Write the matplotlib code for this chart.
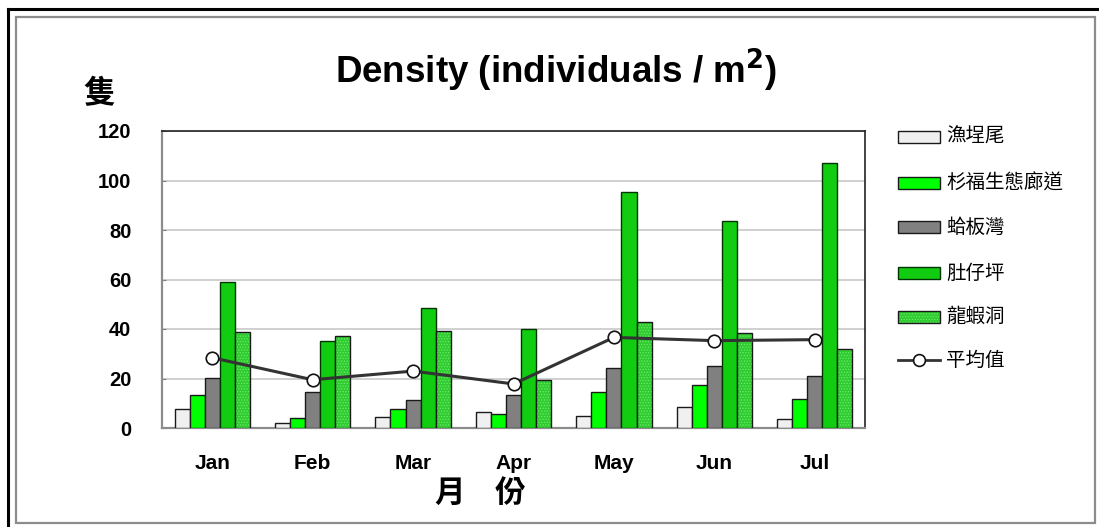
import matplotlib
matplotlib.use("Agg")
import matplotlib.pyplot as plt
from matplotlib.patches import Rectangle
from matplotlib.lines import Line2D
import numpy as np

plt.rcParams["font.family"] = ["Liberation Sans", "Noto Sans CJK TC", "DejaVu Sans"]
plt.rcParams["hatch.linewidth"] = 0.6

# ---- data ----
months = ["Jan", "Feb", "Mar", "Apr", "May", "Jun", "Jul"]
sites = ["漁埕尾", "杉福生態廊道", "蛤板灣", "肚仔坪", "龍蝦洞"]
yuchengwei = [7.8, 2.2, 4.4, 6.6, 5.0, 8.4, 3.8]
shanfu = [13.5, 4.2, 7.8, 5.7, 14.5, 17.5, 11.9]
gebanwan = [20.2, 14.5, 11.2, 13.3, 24.1, 25.2, 21.1]
duzaiping = [59.1, 35.3, 48.6, 40.1, 95.5, 83.8, 107.2]
longxiadong = [38.7, 37.3, 39.2, 19.5, 43.0, 38.5, 31.9]
mean_vals = [28.4, 19.5, 23.0, 17.8, 36.6, 35.3, 35.7]
yticks = [0, 20, 40, 60, 80, 100, 120]

W, H = 1099, 527
fig = plt.figure(figsize=(W / 100, H / 100), dpi=100)

# outer frame
fig.add_artist(Line2D([8 / W, 8 / W], [0, 1 - 9 / H], color="black", lw=2.2))
fig.add_artist(Line2D([8 / W, 1], [1 - 9 / H, 1 - 9 / H], color="black", lw=2.2))
fig.add_artist(Rectangle((16 / W, 1 - 523 / H), (1095 - 16) / W, (523 - 17) / H,
                         transform=fig.transFigure, fill=False, ec="#8c8c8c", lw=1.6))

ax = fig.add_axes([162 / W, (H - 428) / H, 703 / W, 297 / H])
x = np.arange(len(months))
bw = 0.15
series = [yuchengwei, shanfu, gebanwan, duzaiping, longxiadong]
faces = ["#f0f0f0", "#00ff00", "#808080", "#11cc11", "#2ecc2e"]
edges = ["#1a1a1a", "#1a1a1a", "#1a1a1a", "#003300", "#1a1a1a"]
for i, (vals, fc, ec) in enumerate(zip(series, faces, edges)):
    pos = x + (i - 2) * bw
    if i == 4:
        ax.bar(pos, vals, bw, color=fc, edgecolor="#6fe86f", hatch="......",
               lw=0, zorder=3)
        ax.bar(pos, vals, bw, fill=False, edgecolor=ec, lw=1.0, zorder=4)
    else:
        ax.bar(pos, vals, bw, color=fc, edgecolor=ec, lw=1.0, zorder=3)

ax.plot(x, mean_vals, color="#333333", lw=2.2, marker="o", ms=9,
        mfc="white", mec="#111111", mew=1.2, zorder=5)

ax.set_xlim(-0.5, len(months) - 0.5)
ax.set_ylim(0, 120)
ax.set_yticks(yticks)
ax.set_yticklabels([str(t) for t in yticks], fontsize=14.5, fontweight="bold")
ax.set_xticks(x)
ax.set_xticklabels(months, fontsize=15, fontweight="bold")
ax.tick_params(axis="x", length=0, pad=19)
ax.tick_params(axis="y", direction="in", length=3, color="#808080", pad=22)
ax.grid(axis="y", color="#c8c8c8", lw=1.2, zorder=0)
ax.set_axisbelow(True)
for s in ("top", "right"):
    ax.spines[s].set_color("#222222")
    ax.spines[s].set_linewidth(1.2)
for s in ("left", "bottom"):
    ax.spines[s].set_color("#8c8c8c")
    ax.spines[s].set_linewidth(1.6)

# titles
fig.text(556 / W, 1 - 70 / H, r"Density (individuals / m$^\mathbf{2}$)", fontsize=26.5,
         fontweight="bold", ha="center", va="center")
fig.text(99 / W, 1 - 94 / H, "隻", fontsize=23, fontweight="bold", ha="center",
         va="center", family=["Noto Sans CJK TC"])
fig.text(450 / W, 1 - 493 / H, "月", fontsize=22, fontweight="bold", ha="center",
         va="center", family=["Noto Sans CJK TC"])
fig.text(510 / W, 1 - 493 / H, "份", fontsize=22, fontweight="bold", ha="center",
         va="center", family=["Noto Sans CJK TC"])

# legend
rows = [136.7, 183.3, 227.3, 273.3, 316.7, 360.0]
for i, name in enumerate(sites):
    yc = rows[i]
    if i == 4:
        fig.add_artist(Rectangle((898 / W, 1 - (yc + 6) / H), 42 / W, 12 / H,
                                 transform=fig.transFigure, fc=faces[i],
                                 ec="#6fe86f", hatch="......", lw=0))
        fig.add_artist(Rectangle((898 / W, 1 - (yc + 6) / H), 42 / W, 12 / H,
                                 transform=fig.transFigure, fill=False,
                                 ec=edges[i], lw=1.0))
    else:
        fig.add_artist(Rectangle((898 / W, 1 - (yc + 6) / H), 42 / W, 12 / H,
                                 transform=fig.transFigure, fc=faces[i],
                                 ec=edges[i], lw=1.0))
    fig.text(946 / W, 1 - yc / H, name, fontsize=14, ha="left", va="center",
             family=["Noto Sans CJK TC"])
yc = rows[5]
fig.add_artist(Line2D([898 / W, 940 / W], [1 - yc / H, 1 - yc / H], color="#333333",
                      lw=2.0))
fig.add_artist(Line2D([919 / W], [1 - yc / H], marker="o", ms=8.5, mfc="white",
                      mec="#111111", mew=1.2))
fig.text(946 / W, 1 - yc / H, "平均值", fontsize=14, ha="left", va="center",
         family=["Noto Sans CJK TC"])

fig.savefig("out.png", dpi=100)
